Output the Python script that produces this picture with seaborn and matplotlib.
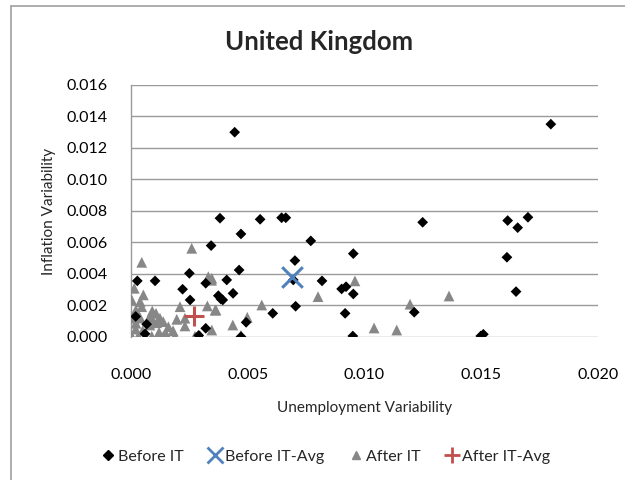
import pandas as pd
import seaborn as sns
import matplotlib.pyplot as plt
from matplotlib.lines import Line2D

# Before IT points (unemployment variability, inflation variability)
before_x = [0.00444, 0.00381, 0.00553, 0.00471, 0.00645, 0.00663, 0.01249, 0.00770,
            0.00952, 0.00702, 0.00695, 0.00818, 0.00902, 0.00921, 0.00952, 0.00607,
            0.00705, 0.00917, 0.00950, 0.01213, 0.01798, 0.01613, 0.01656, 0.01700,
            0.01610, 0.01649, 0.01498, 0.01509, 0.00343, 0.00250, 0.00463, 0.00027,
            0.00103, 0.00221, 0.00320, 0.00410, 0.00437, 0.00253, 0.00374, 0.00385,
            0.00393, 0.00067, 0.00320, 0.00493, 0.00471, 0.00020, 0.00060, 0.00290]
before_y = [0.01300, 0.00754, 0.00747, 0.00654, 0.00757, 0.00757, 0.00728, 0.00610,
            0.00529, 0.00485, 0.00362, 0.00356, 0.00305, 0.00319, 0.00273, 0.00150,
            0.00195, 0.00150, 0.00006, 0.00157, 0.01351, 0.00739, 0.00694, 0.00760,
            0.00506, 0.00288, 0.00006, 0.00017, 0.00580, 0.00404, 0.00425, 0.00356,
            0.00356, 0.00303, 0.00341, 0.00362, 0.00277, 0.00235, 0.00262, 0.00241,
            0.00235, 0.00081, 0.00055, 0.00093, 0.00002, 0.00130, 0.00020, 0.00010]

# After IT points
after_x = [0.00801, 0.00959, 0.01041, 0.01138, 0.01195, 0.01362, 0.00346, 0.00360,
           0.00346, 0.00436, 0.00498, 0.00471, 0.00560, 0.00260, 0.00046, 0.00331,
           0.00345, 0.00014, 0.00003, 0.00053, 0.00039, 0.00021, 0.00046, 0.00091,
           0.00107, 0.00010, 0.00021, 0.00124, 0.00138, 0.00160, 0.00196, 0.00210,
           0.00231, 0.00231, 0.00081, 0.00096, 0.00003, 0.00031, 0.00060, 0.00089,
           0.00138, 0.00188, 0.00274, 0.00296, 0.00327, 0.00364, 0.00120, 0.00150,
           0.00050, 0.00180, 0.00020, 0.00040, 0.00080, 0.00110]
after_y = [0.00256, 0.00356, 0.00057, 0.00044, 0.00208, 0.00260, 0.00373, 0.00170,
           0.00044, 0.00076, 0.00125, 0.00010, 0.00203, 0.00563, 0.00474, 0.00383,
           0.00360, 0.00309, 0.00235, 0.00267, 0.00224, 0.00171, 0.00192, 0.00165,
           0.00150, 0.00119, 0.00087, 0.00119, 0.00097, 0.00065, 0.00112, 0.00192,
           0.00119, 0.00070, 0.00076, 0.00097, 0.00005, 0.00005, 0.00005, 0.00005,
           0.00005, 0.00005, 0.00005, 0.00005, 0.00197, 0.00171, 0.00030, 0.00020,
           0.00040, 0.00040, 0.00050, 0.00120, 0.00130, 0.00090]

before_avg = (0.0069, 0.0038)
after_avg = (0.0027, 0.0013)

x_ticks = [0.000, 0.005, 0.010, 0.015, 0.020]
x_labels = ["0.000", "0.005", "0.010", "0.015", "0.020"]
y_ticks = [0.000, 0.002, 0.004, 0.006, 0.008, 0.010, 0.012, 0.014, 0.016]

sns.set_style("white")
plt.rcParams['font.family'] = ['Lato', 'DejaVu Sans']

fig = plt.figure(figsize=(6.25, 4.8), dpi=100)
ax = fig.add_axes([0.2096, 0.298, 0.7472, 0.525])

df_before = pd.DataFrame({"x": before_x, "y": before_y})
df_after = pd.DataFrame({"x": after_x, "y": after_y})

sns.scatterplot(data=df_after, x="x", y="y", ax=ax, marker="^", s=60,
                color="#878787", edgecolor="none", zorder=3)
sns.scatterplot(data=df_before, x="x", y="y", ax=ax, marker="D", s=30,
                color="black", edgecolor="none", zorder=4)
ax.scatter([before_avg[0]], [before_avg[1]], marker="x", s=220,
           color="#4F81BD", linewidths=2.2, zorder=5)
ax.scatter([after_avg[0]], [after_avg[1]], marker="+", s=220,
           color="#C0504D", linewidths=2.2, zorder=5)

ax.set_xlim(0, 0.020)
ax.set_ylim(0, 0.016)
ax.set_xticks(x_ticks)
ax.set_xticklabels(x_labels)
ax.set_yticks(y_ticks)
ax.set_yticklabels([f"{v:.3f}" for v in y_ticks])
ax.tick_params(length=0, labelsize=11.5, colors="black")
ax.tick_params(axis="x", pad=22)
ax.tick_params(axis="y", pad=17)
ax.yaxis.grid(True, color="#9a9a9a", linewidth=1.0)
ax.set_axisbelow(True)
for side in ["top", "right", "bottom"]:
    ax.spines[side].set_visible(False)
ax.spines["left"].set_color("#9a9a9a")
ax.spines["left"].set_linewidth(1.0)

ax.set_xlabel("Unemployment Variability", fontsize=11, labelpad=14)
ax.set_ylabel("Inflation Variability", fontsize=11, labelpad=7)
fig.text(0.51, 0.912, "United Kingdom", ha="center", va="center",
         fontsize=18.5, fontweight="bold")

handles = [
    Line2D([], [], marker="D", color="black", linestyle="none", markersize=5),
    Line2D([], [], marker="x", color="#4F81BD", linestyle="none", markersize=11, markeredgewidth=2),
    Line2D([], [], marker="^", color="#878787", linestyle="none", markersize=6),
    Line2D([], [], marker="+", color="#C0504D", linestyle="none", markersize=11, markeredgewidth=2),
]
labels = ["Before IT", "Before IT-Avg", "After IT", "After IT-Avg"]
fig.legend(handles, labels, loc="center", bbox_to_anchor=(0.52, 0.048), ncol=4,
           frameon=False, fontsize=11.5, handletextpad=0.1, columnspacing=1.5,
           handlelength=1.0)

# chart frame (left and top edges visible)
fig.add_artist(Line2D([0.018, 0.018], [0.0, 0.988], transform=fig.transFigure,
                      color="#a0a0a0", linewidth=1.2))
fig.add_artist(Line2D([0.018, 1.0], [0.988, 0.988], transform=fig.transFigure,
                      color="#a0a0a0", linewidth=1.2))

fig.savefig("out.png", dpi=100)
